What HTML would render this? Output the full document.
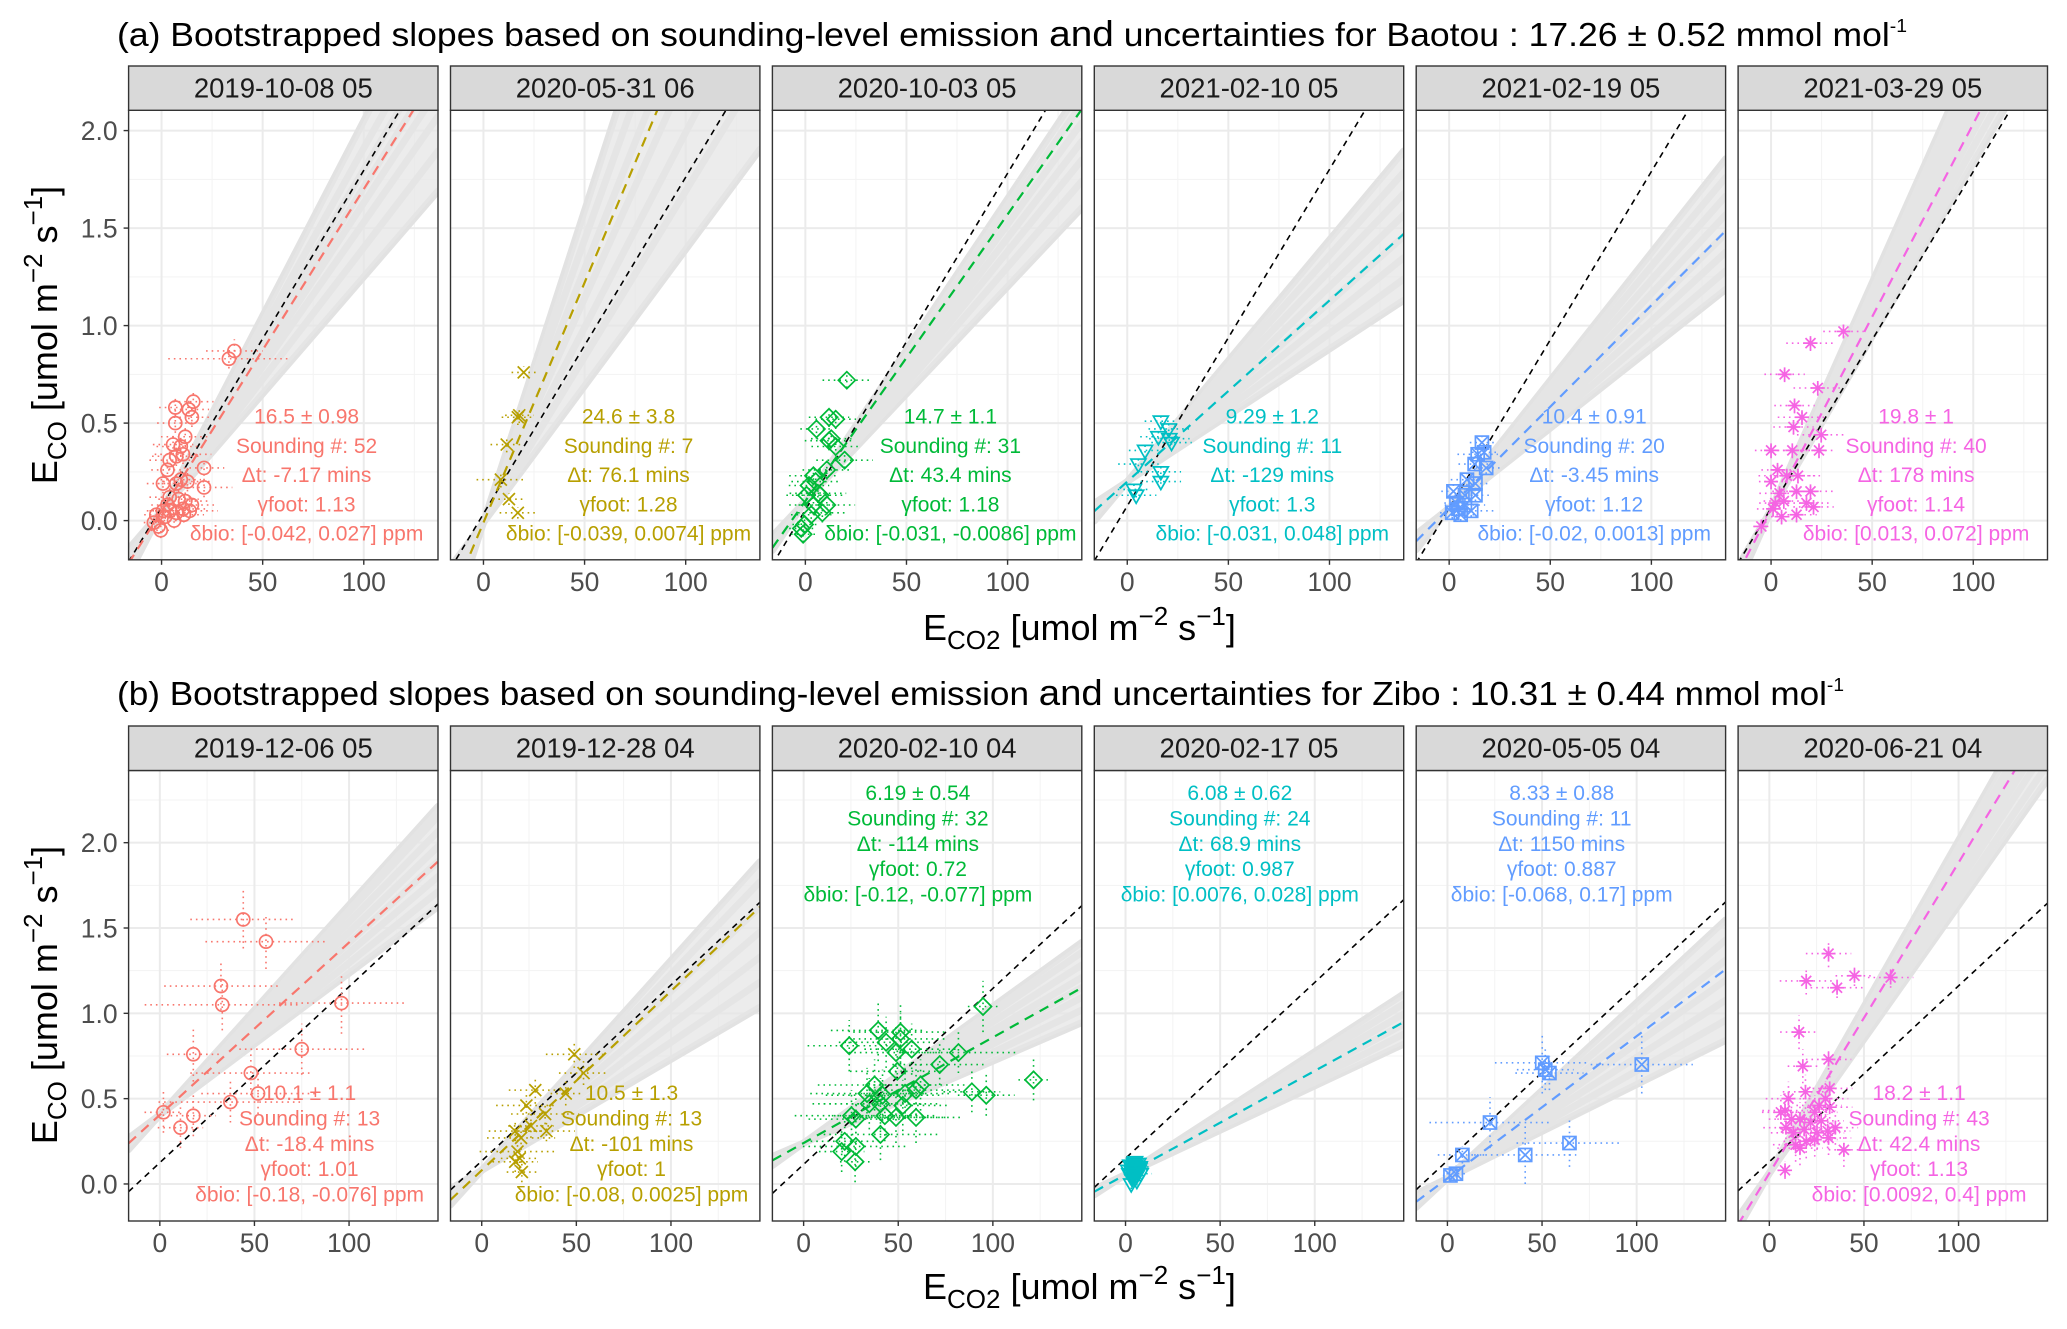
<!DOCTYPE html>
<html><head><meta charset="utf-8">
<style>
html,body{margin:0;padding:0;background:#fff;}
svg{display:block;font-family:"Liberation Sans",Arial,sans-serif;}
</style></head>
<body>
<svg id="chart" xmlns="http://www.w3.org/2000/svg" width="2067" height="1329" viewBox="0 0 2067 1329">
<rect width="2067" height="1329" fill="#fff"/>
<text x="117" y="46" font-size="33" fill="#000" textLength="1790" lengthAdjust="spacingAndGlyphs">(a) Bootstrapped slopes based on sounding-level emission <tspan font-size="36">and</tspan> uncertainties for Baotou : 17.26 ± 0.52 mmol mol<tspan font-size="18" dy="-14">-1</tspan></text>
<text x="117" y="705" font-size="33" fill="#000" textLength="1727" lengthAdjust="spacingAndGlyphs">(b) Bootstrapped slopes based on sounding-level emission <tspan font-size="36">and</tspan> uncertainties for Zibo : 10.31 ± 0.44 mmol mol<tspan font-size="18" dy="-14">-1</tspan></text>
<text x="923" y="640" font-size="36" fill="#000">E<tspan font-size="26" dy="9">CO2</tspan><tspan dy="-9">  [umol m</tspan><tspan font-size="26" dy="-15">−2</tspan><tspan dy="15"> s</tspan><tspan font-size="26" dy="-15">−1</tspan><tspan dy="15">]</tspan></text>
<text x="923" y="1299" font-size="36" fill="#000">E<tspan font-size="26" dy="9">CO2</tspan><tspan dy="-9">  [umol m</tspan><tspan font-size="26" dy="-15">−2</tspan><tspan dy="15"> s</tspan><tspan font-size="26" dy="-15">−1</tspan><tspan dy="15">]</tspan></text>
<text transform="translate(57,335) rotate(-90)" text-anchor="middle" font-size="36" fill="#000">E<tspan font-size="26" dy="9">CO</tspan><tspan dy="-9">  [umol m</tspan><tspan font-size="26" dy="-15">−2</tspan><tspan dy="15"> s</tspan><tspan font-size="26" dy="-15">−1</tspan><tspan dy="15">]</tspan></text>
<text transform="translate(57,995) rotate(-90)" text-anchor="middle" font-size="36" fill="#000">E<tspan font-size="26" dy="9">CO</tspan><tspan dy="-9">  [umol m</tspan><tspan font-size="26" dy="-15">−2</tspan><tspan dy="15"> s</tspan><tspan font-size="26" dy="-15">−1</tspan><tspan dy="15">]</tspan></text>
<g id="panels"></g>
</svg>
<script>
// ---------- data ----------
const datesA = ["2019-10-08 05","2020-05-31 06","2020-10-03 05","2021-02-10 05","2021-02-19 05","2021-03-29 05"];
const datesB = ["2019-12-06 05","2019-12-28 04","2020-02-10 04","2020-02-17 05","2020-05-05 04","2020-06-21 04"];
const refSlope = [17.26, 10.31];
const refIntA = [0.07,0.035,0.055,0.075,0.064,0.064];
const refIntB = [0.125,0.135,0.115,0.15,0.137,0.13];
const fitSlopeA = [16.5,24.6,14.7,9.29,10.4,19.8];
const fitIntA = [0.05,-0.01,0.10,0.20,0.064,0.055];
const fitSlopeB = [10.1,10.5,6.19,6.08,8.33,18.2];
const fitIntB = [0.405,0.08,0.24,0.055,0.033,0.063];
const greyA1 = [12,13.5,14.8,15.8,16.6,17.5,18.6,20];
const greyA2 = [14,17,20,23,26,29,32];
const greyA3 = [11,12,12.8,13.5,14.2,14.9,15.5];
const greyA4 = [6.8,7.6,8.4,9.2,10,10.8,11.6,12.4];
const greyA5 = [8.2,8.9,9.6,10.3,11,11.7,12.4,13.1];
const greyA6 = [17.8,18.6,19.4,20.2,21,21.8,22.6,23.3];
const greyB1 = [8.3,8.9,9.5,10.1,10.7,11.3,11.9,12.3];
const greyB2 = [6.5,7.5,8.5,9.5,10.5,11.5,12.3];
const greyB3 = [4.8,5.3,5.8,6.2,6.6,7.1,7.6,8.0];
const greyB4 = [5.2,5.6,6.0,6.4,6.8,7.2];
const greyB5 = [5.5,6.3,7.1,7.9,8.7,9.5,10.3];
const greyB6 = [15.7,16.3,17,17.6,18.2,18.8,19.5];
// points: [ECO2, ECO, ECO2 err, ECO err]
const ptsA1 = [[36.0,0.87,14,0.06],[33.3,0.83,30,0.05],[15.7,0.61,10,0.05],[6.8,0.58,8,0.05],[13.5,0.57,10,0.05],[15.0,0.53,9,0.05],[6.8,0.50,9,0.05],[11.7,0.43,12,0.05],[5.7,0.39,10,0.05],[9.5,0.38,12,0.05],[4.0,0.31,10,0.05],[7.3,0.33,12,0.05],[10.6,0.34,14,0.05],[21.0,0.27,10,0.04],[2.9,0.26,8,0.05],[9.5,0.21,10,0.05],[0.7,0.19,8,0.05],[7.3,0.19,10,0.05],[12.8,0.20,12,0.05],[21.0,0.17,14,0.05],[4.0,0.12,10,0.05],[8.4,0.11,10,0.05],[11.7,0.10,12,0.05],[15.0,0.08,12,0.04],[2.9,0.08,8,0.04],[0.7,0.05,8,0.04],[-2.6,0.03,6,0.04],[4.0,0.05,10,0.04],[7.3,0.04,10,0.04],[10.6,0.06,12,0.04],[13.9,0.05,14,0.04],[-3.8,-0.01,5,0.04],[-1.5,-0.03,5,0.04],[-0.4,-0.05,5,0.04],[1.8,0.02,8,0.04],[6.2,0.00,8,0.04],[11.0,0.03,10,0.04]];
const ptsA2 = [[19.9,0.76,6,0.03],[17.7,0.54,7,0.04],[17.0,0.53,8,0.04],[11.5,0.39,8,0.04],[8.6,0.21,12,0.04],[12.6,0.11,8,0.03],[17.0,0.04,9,0.03]];
const ptsA3 = [[20.5,0.72,12,0.04],[11.7,0.53,10,0.05],[15.0,0.52,10,0.05],[5.5,0.47,8,0.05],[11.7,0.41,12,0.05],[12.8,0.42,10,0.05],[15.0,0.38,12,0.05],[19.4,0.31,14,0.04],[10.6,0.26,12,0.05],[4.0,0.23,12,0.05],[5.1,0.20,12,0.05],[1.8,0.18,10,0.05],[6.2,0.14,14,0.05],[0.6,0.13,10,0.05],[10.6,0.08,14,0.05],[4.0,0.08,12,0.05],[8.4,0.04,12,0.05],[2.9,0.03,10,0.05],[-2.0,-0.04,6,0.04],[-1.1,-0.07,6,0.04],[-0.4,-0.02,6,0.04],[7.3,0.13,12,0.05]];
const ptsA4 = [[16.6,0.51,8,0.04],[20.5,0.47,10,0.04],[15.4,0.43,9,0.04],[21.9,0.40,10,0.04],[20.8,0.42,10,0.04],[8.8,0.36,8,0.04],[5.5,0.29,10,0.04],[16.6,0.25,10,0.04],[16.6,0.20,10,0.04],[3.3,0.16,8,0.04],[4.4,0.13,10,0.04]];
const ptsA5 = [[16.2,0.40,6,0.03],[14.1,0.34,10,0.03],[17.3,0.35,6,0.03],[12.6,0.29,8,0.03],[18.3,0.27,8,0.03],[8.8,0.21,8,0.03],[13.0,0.19,6,0.03],[2.1,0.15,6,0.03],[13.0,0.13,8,0.03],[7.8,0.13,8,0.03],[3.6,0.09,6,0.03],[7.8,0.08,10,0.03],[1.5,0.04,6,0.03],[5.7,0.03,8,0.03],[10.9,0.05,12,0.03],[4.6,0.06,6,0.03]];
const ptsA6 = [[35.8,0.97,10,0.03],[19.5,0.91,12,0.04],[6.7,0.75,10,0.04],[23.1,0.68,12,0.04],[11.6,0.59,10,0.04],[15.3,0.53,12,0.04],[11.1,0.48,10,0.04],[24.8,0.44,12,0.04],[0.0,0.36,8,0.04],[10.5,0.36,10,0.04],[23.7,0.36,8,0.04],[3.2,0.26,8,0.04],[7.8,0.23,14,0.04],[13.3,0.23,12,0.04],[0.0,0.20,6,0.04],[4.2,0.14,10,0.04],[12.6,0.15,12,0.04],[19.5,0.15,12,0.04],[2.1,0.09,8,0.04],[6.3,0.10,10,0.04],[17.5,0.09,12,0.04],[21.0,0.07,10,0.04],[5.2,0.02,8,0.04],[12.6,0.03,10,0.04],[-4.8,-0.03,4,0.03],[1.0,0.06,8,0.04]];
const ptsB1 = [[44.1,1.55,28,0.17],[56.1,1.42,32,0.16],[32.3,1.16,30,0.14],[33.0,1.05,41,0.15],[96.0,1.06,33,0.18],[17.7,0.76,14,0.16],[75.0,0.79,33,0.15],[48.1,0.65,32,0.13],[51.9,0.53,30,0.12],[1.9,0.42,10,0.12],[37.3,0.48,38,0.12],[17.7,0.40,12,0.12],[10.9,0.33,12,0.12]];
const ptsB2 = [[48.9,0.76,15,0.08],[53.8,0.65,13,0.07],[28.3,0.55,14,0.08],[44.4,0.53,8,0.07],[23.6,0.46,16,0.08],[33.5,0.41,18,0.06],[26.0,0.34,12,0.07],[17.7,0.31,14,0.06],[34.2,0.31,15,0.06],[20.8,0.27,18,0.07],[18.9,0.19,20,0.07],[20.1,0.15,10,0.06],[17.7,0.13,12,0.06],[21.2,0.07,8,0.06]];
const ptsB3 = [[94.8,1.04,8,0.15],[39.4,0.90,25,0.18],[51.2,0.89,25,0.18],[24.1,0.81,22,0.15],[43.6,0.83,25,0.15],[51.2,0.85,25,0.15],[57.1,0.79,25,0.15],[48.8,0.77,25,0.15],[81.8,0.77,30,0.12],[71.9,0.70,25,0.12],[49.5,0.66,25,0.15],[121.5,0.61,8,0.12],[37.5,0.58,30,0.15],[61.8,0.58,25,0.15],[33.5,0.53,30,0.15],[41.7,0.52,30,0.15],[53.6,0.53,25,0.15],[59.4,0.55,25,0.15],[88.9,0.54,15,0.12],[96.5,0.52,15,0.12],[34.7,0.47,30,0.15],[40.6,0.47,30,0.15],[52.4,0.46,25,0.15],[25.3,0.40,30,0.15],[42.9,0.40,28,0.15],[48.8,0.39,28,0.15],[59.4,0.39,25,0.15],[27.6,0.38,25,0.15],[40.6,0.29,30,0.15],[21.7,0.25,18,0.12],[20.1,0.19,12,0.12],[27.6,0.22,28,0.12],[27.2,0.13,8,0.12]];
const ptsB4 = [[2,0.06,3,0.03],[3,0.08,4,0.03],[4,0.10,4,0.03],[5,0.07,5,0.03],[6,0.05,4,0.03],[3.5,0.03,3,0.03],[4.5,0.12,4,0.03],[5.5,0.09,5,0.03],[7,0.08,5,0.03],[2.5,0.11,3,0.03],[6.5,0.10,5,0.03],[4,0.04,4,0.03],[3,0.00,3,0.03],[5,0.13,4,0.03],[8,0.06,6,0.03],[1.5,0.08,3,0.03],[6,0.02,4,0.03],[4.8,0.06,4,0.03],[3.8,0.09,4,0.03],[5.2,0.11,4,0.03],[7.5,0.10,5,0.03],[2.8,0.05,3,0.03],[4.2,0.07,4,0.03],[6.8,0.12,5,0.03]];
const ptsB5 = [[50.1,0.71,25,0.18],[51.7,0.67,15,0.12],[53.9,0.65,18,0.10],[102.7,0.70,27,0.17],[22.5,0.36,32,0.15],[7.9,0.17,13,0.05],[41.1,0.17,27,0.17],[64.5,0.24,28,0.14],[4.5,0.06,5,0.05],[1.6,0.05,4,0.04]];
const ptsB6 = [[31.3,1.35,12,0.08],[19.5,1.19,14,0.08],[45.0,1.22,10,0.06],[35.8,1.15,14,0.06],[64.1,1.21,12,0.06],[15.7,0.89,10,0.1],[17.7,0.69,8,0.1],[31.3,0.73,12,0.06],[19.1,0.54,12,0.1],[31.9,0.56,12,0.1],[10.1,0.50,12,0.1],[26.3,0.46,12,0.1],[31.9,0.45,12,0.1],[8.3,0.43,12,0.1],[16.2,0.38,12,0.1],[21.8,0.36,12,0.1],[27.4,0.37,12,0.1],[8.8,0.33,12,0.1],[12.8,0.30,12,0.1],[18.4,0.32,12,0.1],[25.2,0.30,12,0.1],[30.8,0.31,12,0.1],[34.9,0.33,12,0.1],[13.9,0.23,12,0.1],[19.5,0.25,12,0.1],[24.0,0.26,12,0.1],[31.3,0.27,12,0.1],[16.2,0.21,12,0.1],[39.4,0.20,8,0.1],[8.3,0.08,4,0.05],[6.1,0.42,10,0.1],[11.7,0.38,12,0.1],[24.0,0.42,12,0.1],[29.7,0.50,12,0.1]];
const annA = [
 ["16.5 ± 0.98","Sounding #: 52","Δt: -7.17 mins","γfoot: 1.13","δbio: [-0.042, 0.027] ppm"],
 ["24.6 ± 3.8","Sounding #: 7","Δt: 76.1 mins","γfoot: 1.28","δbio: [-0.039, 0.0074] ppm"],
 ["14.7 ± 1.1","Sounding #: 31","Δt: 43.4 mins","γfoot: 1.18","δbio: [-0.031, -0.0086] ppm"],
 ["9.29 ± 1.2","Sounding #: 11","Δt: -129 mins","γfoot: 1.3","δbio: [-0.031, 0.048] ppm"],
 ["10.4 ± 0.91","Sounding #: 20","Δt: -3.45 mins","γfoot: 1.12","δbio: [-0.02, 0.0013] ppm"],
 ["19.8 ± 1","Sounding #: 40","Δt: 178 mins","γfoot: 1.14","δbio: [0.013, 0.072] ppm"]];
const annB = [
 ["10.1 ± 1.1","Sounding #: 13","Δt: -18.4 mins","γfoot: 1.01","δbio: [-0.18, -0.076] ppm"],
 ["10.5 ± 1.3","Sounding #: 13","Δt: -101 mins","γfoot: 1","δbio: [-0.08, 0.0025] ppm"],
 ["6.19 ± 0.54","Sounding #: 32","Δt: -114 mins","γfoot: 0.72","δbio: [-0.12, -0.077] ppm"],
 ["6.08 ± 0.62","Sounding #: 24","Δt: 68.9 mins","γfoot: 0.987","δbio: [0.0076, 0.028] ppm"],
 ["8.33 ± 0.88","Sounding #: 11","Δt: 1150 mins","γfoot: 0.887","δbio: [-0.068, 0.17] ppm"],
 ["18.2 ± 1.1","Sounding #: 43","Δt: 42.4 mins","γfoot: 1.13","δbio: [0.0092, 0.4] ppm"]];
const xTicks = [0,50,100];
const xMinor = [-25,25,75,125];
const yTicks = [0,0.5,1.0,1.5,2.0];
const yTickLabels = ["0.0","0.5","1.0","1.5","2.0"];
const yMinor = [-0.25,0.25,0.75,1.25,1.75,2.25];

// ---------- layout ----------
const NS="http://www.w3.org/2000/svg";
const colors=["#F8766D","#B79F00","#00BA38","#00BFC4","#619CFF","#F564E3"];
const lefts=[128.6,450.5,772.4,1094.3,1416.2,1738.1];
const PW=309.4;
const rows=[
 {id:"a",stripTop:66,plotTop:110.3,plotBot:559.8,xmin:-16.3,xmax:136.7,ymin:-0.201,ymax:2.104,xlab:591,annCx:178,annY:[423.5,423.5,423.5,423.5,423.5,423.5],annDy:29.3,
  dates:datesA,fitS:fitSlopeA,fitI:fitIntA,refI:refIntA,grey:[greyA1,greyA2,greyA3,greyA4,greyA5,greyA6],pts:[ptsA1,ptsA2,ptsA3,ptsA4,ptsA5,ptsA6],ann:annA},
 {id:"b",stripTop:726,plotTop:770.5,plotBot:1221,xmin:-16.5,xmax:147,ymin:-0.217,ymax:2.423,xlab:1252,annCx:[181,181,145.5,145.5,145.5,181],annY:[1100,1100,800,800,800,1100],annDy:25.4,
  dates:datesB,fitS:fitSlopeB,fitI:fitIntB,refI:refIntB,grey:[greyB1,greyB2,greyB3,greyB4,greyB5,greyB6],pts:[ptsB1,ptsB2,ptsB3,ptsB4,ptsB5,ptsB6],ann:annB}];

function mk(tag,attrs,parent){const e=document.createElementNS(NS,tag);for(const k in attrs)e.setAttribute(k,attrs[k]);parent.appendChild(e);return e;}
const root=document.getElementById("panels");
const defs=mk("defs",{},root);

rows.forEach((R,ri)=>{
 for(let p=0;p<6;p++){
  const L=lefts[p];
  const sx=x=>L+(x-R.xmin)/(R.xmax-R.xmin)*PW;
  const sy=y=>R.plotBot-(y-R.ymin)/(R.ymax-R.ymin)*(R.plotBot-R.plotTop);
  const g=mk("g",{},root);
  
  
  const cid="clip"+R.id+p;
  const cp=mk("clipPath",{id:cid},defs);
  mk("rect",{x:L,y:R.plotTop,width:PW,height:R.plotBot-R.plotTop},cp);
  const bg=mk("rect",{x:L,y:R.plotTop,width:PW,height:R.plotBot-R.plotTop,fill:"#fff"},g);
  
  
  const inner=mk("g",{"clip-path":"url(#"+cid+")"},g);
  xMinor.forEach(v=>{const l=mk("line",{x1:sx(v),x2:sx(v),y1:R.plotTop,y2:R.plotBot,stroke:"#F3F3F3","stroke-width":1},inner);
   
   });
  yMinor.forEach(v=>{const l=mk("line",{x1:L,x2:L+PW,y1:sy(v),y2:sy(v),stroke:"#F3F3F3","stroke-width":1},inner);
   
   });
  xTicks.forEach(v=>{const l=mk("line",{x1:sx(v),x2:sx(v),y1:R.plotTop,y2:R.plotBot,stroke:"#EBEBEB","stroke-width":2},inner);
   
   });
  yTicks.forEach(v=>{const l=mk("line",{x1:L,x2:L+PW,y1:sy(v),y2:sy(v),stroke:"#EBEBEB","stroke-width":2},inner);
   
   });
  const fi=R.fitI[p];
  R.grey[p].forEach(s=>{
   const l=mk("line",{x1:sx(R.xmin),y1:sy(fi+s/1000*R.xmin),x2:sx(R.xmax),y2:sy(fi+s/1000*R.xmax),stroke:"#E2E2E2","stroke-width":7,"stroke-linecap":"round"},inner);
   
   
  });
  const gs=R.grey[p], smin=Math.min(...gs), smax=Math.max(...gs);
  const poly=mk("polygon",{points:[[R.xmin,smin],[R.xmax,smin],[R.xmax,smax],[R.xmin,smax]].map(([x,s])=>sx(x)+","+sy(fi+s/1000*x)).join(" "),fill:"#E6E6E6","fill-opacity":0.75},inner);
  
  
  const rs=refSlope[ri], rI=R.refI[p];
  const rl=mk("line",{x1:sx(R.xmin),y1:sy(rI+rs/1000*R.xmin),x2:sx(R.xmax),y2:sy(rI+rs/1000*R.xmax),stroke:"#000","stroke-width":1.6,"stroke-dasharray":"6 5"},inner);
  
  
  const fs=R.fitS[p], c=colors[p];
  const fl=mk("line",{x1:sx(R.xmin),y1:sy(fi+fs/1000*R.xmin),x2:sx(R.xmax),y2:sy(fi+fs/1000*R.xmax),stroke:c,"stroke-width":2.2,"stroke-dasharray":"10 7"},inner);
  
  
  R.pts[p].forEach(([x,y,xe,ye])=>{
   const eh=mk("line",{x1:sx(x-xe),x2:sx(x+xe),y1:sy(y),y2:sy(y),stroke:c,"stroke-width":1.6,"stroke-dasharray":"1.6 4"},inner);
   
   
   const ev=mk("line",{x1:sx(x),x2:sx(x),y1:sy(y-ye),y2:sy(y+ye),stroke:c,"stroke-width":1.6,"stroke-dasharray":"1.6 4"},inner);
   
   
   const m=mk("g",{transform:"translate("+sx(x)+","+sy(y)+")",fill:"none",stroke:c,"stroke-width":1.7},inner);
   
   
   if(p===0){mk("circle",{r:6.5},m);}
   else if(p===1){mk("path",{d:"M-6,-6L6,6M-6,6L6,-6"},m);}
   else if(p===2){mk("polygon",{points:"0,-8.5 8.5,0 0,8.5 -8.5,0"},m);}
   else if(p===3){mk("polygon",{points:"-7.5,-5 7.5,-5 0,8"},m);}
   else if(p===4){mk("rect",{x:-6.5,y:-6.5,width:13,height:13},m);mk("path",{d:"M-6.5,-6.5L6.5,6.5M-6.5,6.5L6.5,-6.5"},m);}
   else {mk("path",{d:"M-7,0L7,0M0,-7L0,7M-5,-5L5,5M-5,5L5,-5"},m);}
  });
  const cx=L+(Array.isArray(R.annCx)?R.annCx[p]:R.annCx);
  const at=mk("text",{x:cx,y:R.annY[p],"text-anchor":"middle","font-size":21,fill:c},g);
  
  
  R.ann[p].forEach((s,i)=>{const t=mk("tspan",{x:cx,y:R.annY[p]+i*R.annDy},at);t.textContent=s;});
  const br=mk("rect",{x:L,y:R.plotTop,width:PW,height:R.plotBot-R.plotTop,fill:"none",stroke:"#333","stroke-width":1.4},g);
  
  
  const st=mk("rect",{x:L,y:R.stripTop,width:PW,height:R.plotTop-R.stripTop,fill:"#D9D9D9",stroke:"#333","stroke-width":1.4},g);
  
  
  const stt=mk("text",{x:L+PW/2,y:R.stripTop+31.6,"text-anchor":"middle","font-size":27.5,fill:"#1A1A1A"},g);
  
  
  stt.textContent=R.dates[p];
  xTicks.forEach(v=>{
   const tk=mk("line",{x1:sx(v),x2:sx(v),y1:R.plotBot,y2:R.plotBot+5,stroke:"#333","stroke-width":1.4},g);
   
   
   const tl=mk("text",{x:sx(v),y:R.xlab,"text-anchor":"middle","font-size":26.5,fill:"#4D4D4D"},g);
   
   
   tl.textContent=String(v);
  });
  if(p===0){
   yTicks.forEach((v,i)=>{
    const tk=mk("line",{x1:L-5,x2:L,y1:sy(v),y2:sy(v),stroke:"#333","stroke-width":1.4},g);
    
    
    const tl=mk("text",{x:L-11,y:sy(v)+9.5,"text-anchor":"end","font-size":26.5,fill:"#4D4D4D"},g);
    
    
    tl.textContent=yTickLabels[i];
   });
  }
 }
});
</script>
</body></html>
